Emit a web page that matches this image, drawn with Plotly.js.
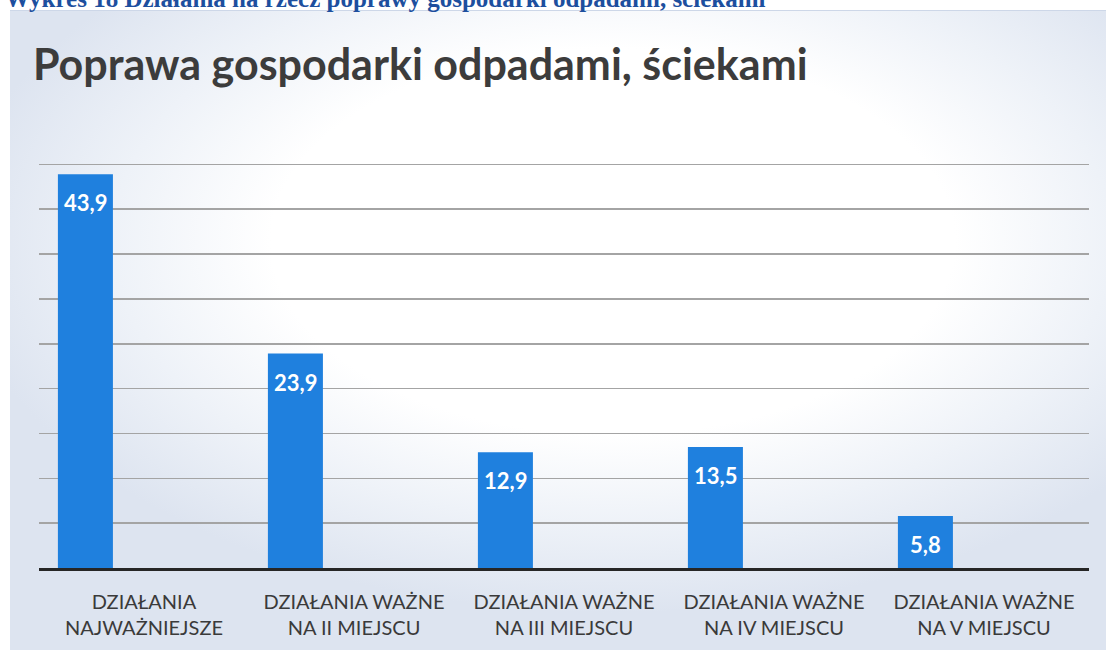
<!DOCTYPE html>
<html>
<head>
<meta charset="utf-8">
<script src="https://cdn.plot.ly/plotly-3.0.1.min.js"></script>
<style>
  html, body { margin:0; padding:0; background:#ffffff; }
  #wrap { position:relative; width:1106px; height:650px; overflow:hidden; }
  #bg { position:absolute; left:10px; top:10px; width:1096px; height:640px;
        background: radial-gradient(ellipse 60% 58% at 55% 36%, #ffffff 52%, #eef2f8 76%, #dde4f0 100%);
        border-top:1px solid #cdd7e8; }
  #chart { position:absolute; left:0; top:0; width:1106px; height:650px; }
</style>
</head>
<body>
<div id="wrap">
  <div id="bg"></div>
  <div id="chart"></div>
</div>
<script>
const categories = [
  'DZIAŁANIA<br>NAJWAŻNIEJSZE',
  'DZIAŁANIA WAŻNE<br>NA II MIEJSCU',
  'DZIAŁANIA WAŻNE<br>NA III MIEJSCU',
  'DZIAŁANIA WAŻNE<br>NA IV MIEJSCU',
  'DZIAŁANIA WAŻNE<br>NA V MIEJSCU'
];
const values = [43.9, 23.9, 12.9, 13.5, 5.8];
const yTicks = [0, 5, 10, 15, 20, 25, 30, 35, 40, 45];
const chartTitle = 'Poprawa gospodarki odpadami, ściekami';
const headerText = 'Wykres 18 Działania na rzecz poprawy gospodarki odpadami, ściekami';

const barOffset = -0.41;
const barWidth = 0.262;

const trace = {
  type: 'bar',
  x: categories,
  y: values,
  marker: { color: '#1f80de' },
  offset: barOffset,
  width: barWidth,
  hoverinfo: 'skip'
};

const labelAnnotations = values.map((v, i) => ({
  x: i + barOffset + barWidth / 2,
  y: v,
  xref: 'x', yref: 'y',
  text: v.toFixed(1).replace('.', ','),
  showarrow: false,
  xanchor: 'center', yanchor: 'top',
  yshift: -13,
  font: { family: 'Lato, "Open Sans", sans-serif', size: 22, color: '#ffffff', weight: 'bold' }
}));

const layout = {
  width: 1106, height: 650,
  margin: { l: 0, r: 0, t: 0, b: 0 },
  paper_bgcolor: 'rgba(0,0,0,0)',
  plot_bgcolor: 'rgba(0,0,0,0)',
  showlegend: false,
  title: {
    text: chartTitle,
    x: 33 / 1106, xanchor: 'left', xref: 'container',
    y: 1 - 65 / 650, yanchor: 'middle', yref: 'container',
    font: { family: 'Lato, "Open Sans", sans-serif', size: 43, color: '#3c3c3c', weight: 'bold' }
  },
  xaxis: {
    domain: [39 / 1106, 1089 / 1106],
    type: 'category',
    showline: true, linecolor: '#262626', linewidth: 3,
    showgrid: false, zeroline: false,
    ticks: '', ticklabelstandoff: 14,
    tickfont: { family: 'Lato, "Open Sans", sans-serif', size: 20, color: '#3a3a3a' }
  },
  yaxis: {
    domain: [82 / 650, (650 - (568 - 46 * 8.97)) / 650],
    range: [0, 46],
    tickvals: yTicks,
    showticklabels: false,
    showgrid: true, gridcolor: '#a4a4a4', gridwidth: 1.5,
    zeroline: false, showline: false, ticks: ''
  },
  annotations: [
    {
      text: headerText,
      xref: 'paper', yref: 'paper',
      x: 3 / 1106, xanchor: 'left',
      y: 1 + 2 / 650, yanchor: 'middle',
      showarrow: false,
      font: { family: '"Liberation Serif", "Times New Roman", serif', size: 25, color: '#1d4f9e', weight: 'bold' }
    }
  ].concat(labelAnnotations)
};

Plotly.newPlot('chart', [trace], layout, { displayModeBar: false, staticPlot: true });
</script>
</body>
</html>
